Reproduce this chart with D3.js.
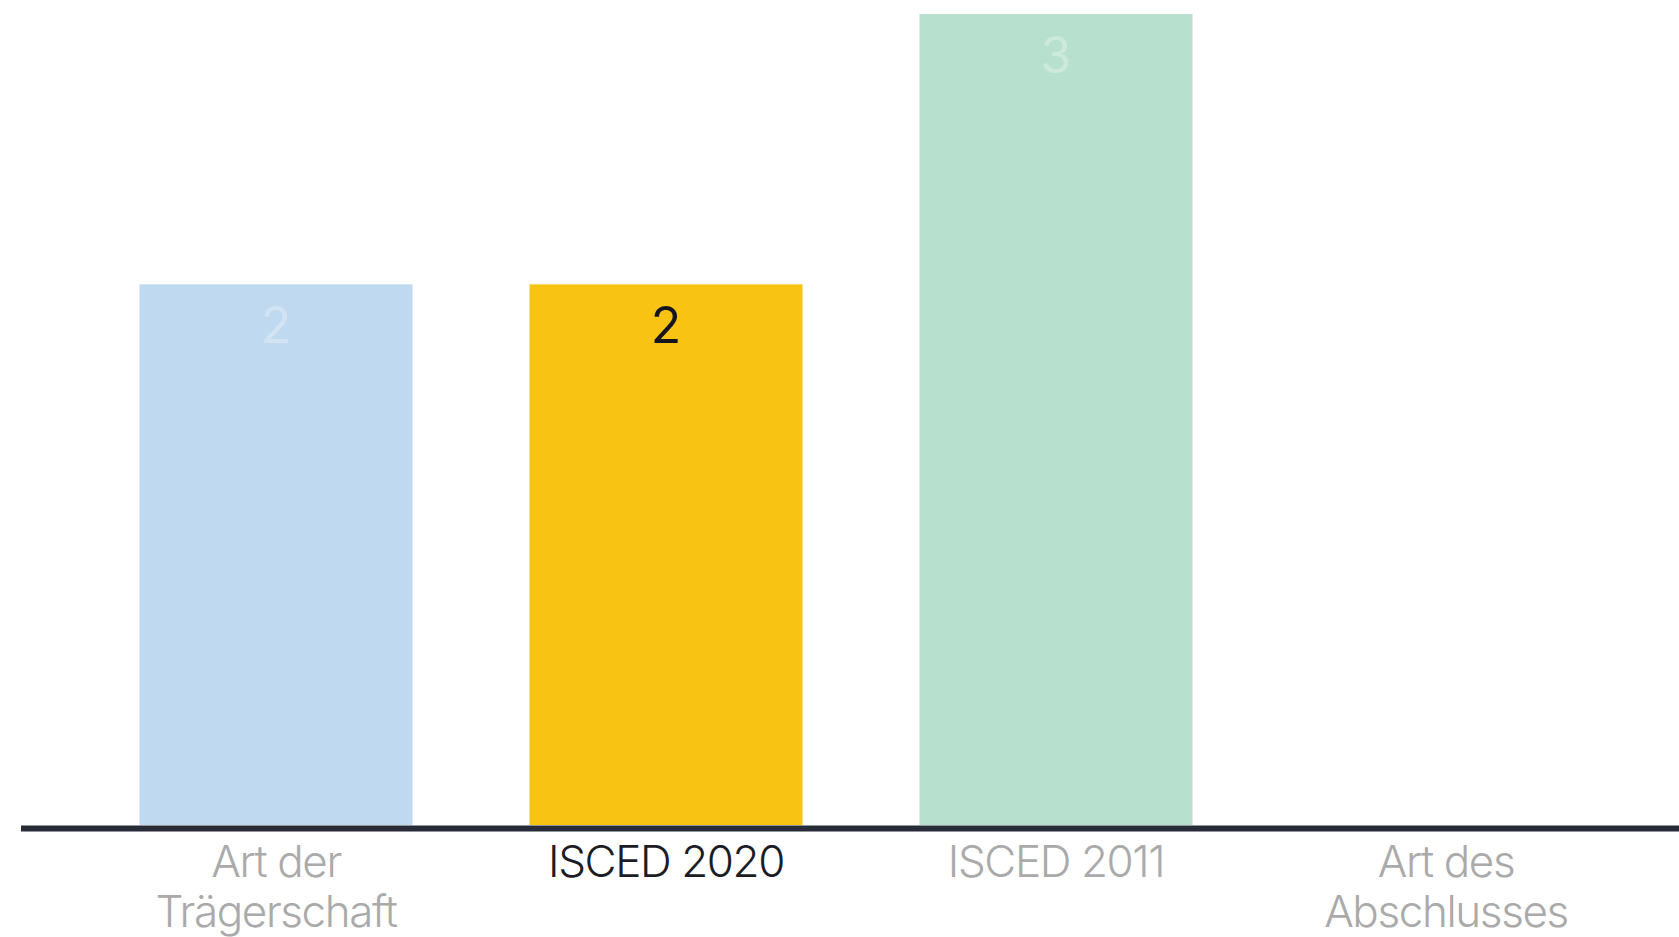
<!DOCTYPE html>
<html>
<head>
<meta charset="utf-8">
<script src="https://cdn.jsdelivr.net/npm/d3@7"></script>
<style>
  body { margin: 0; background: #fff; }
  svg { display: block; font-family: Inter, "Noto Sans", sans-serif; }
</style>
</head>
<body>
<div class="container"></div>
<script>
(function(){
  const categories = ['Art der|Trägerschaft', 'ISCED 2020', 'ISCED 2011', 'Art des|Abschlusses'];
  const values = [2, 2, 3, null];
  const barColors = ['#bfd9f0', '#f8c313', '#b8e0ce', 'none'];
  const active = 'ISCED 2020';

  const config = {w: 1679, h: 937, base: 825, top: 14};

  const svg = d3.select('.container').append('svg')
    .attr('width', config.w)
    .attr('height', config.h);

  const x = d3.scaleBand()
    .domain(categories)
    .range([81, 81 + 390 * 4])
    .paddingInner(0.3)
    .paddingOuter(0.15);

  const y = d3.scaleLinear()
    .domain([0, 3])
    .range([config.base, config.top]);

  const data = categories.map((c, i) => ({cat: c, value: values[i], color: barColors[i]}));

  svg.append('g')
    .selectAll('rect')
    .data(data.filter(d => d.value != null))
    .enter().append('rect')
      .attr('x', d => x(d.cat))
      .attr('width', x.bandwidth())
      .attr('y', d => y(d.value))
      .attr('height', d => y(0) - y(d.value))
      .attr('fill', d => d.color);

  svg.append('g')
    .selectAll('text')
    .data(data.filter(d => d.value != null))
    .enter().append('text')
      .attr('x', d => x(d.cat) + x.bandwidth() / 2)
      .attr('y', d => y(d.value) + 59)
      .attr('text-anchor', 'middle')
      .attr('font-size', 50)
      .attr('fill', d => d.cat === active ? '#15151f' : '#ffffff')
      .attr('fill-opacity', d => d.cat === active ? 1 : 0.3)
      .text(d => d.value);

  // baseline
  svg.append('line')
    .attr('x1', 21)
    .attr('x2', config.w)
    .attr('y1', config.base + 3.5)
    .attr('y2', config.base + 3.5)
    .attr('stroke', '#282b38')
    .attr('stroke-width', 6);

  const labels = svg.append('g')
    .selectAll('text')
    .data(categories)
    .enter().append('text')
      .attr('x', d => x(d) + x.bandwidth() / 2)
      .attr('y', 877)
      .attr('text-anchor', 'middle')
      .attr('font-size', 44)
      .attr('font-weight', 300)
      .attr('letter-spacing', -1.4)
      .attr('fill', d => d === active ? '#1c1c26' : '#aaaaaa');

  labels.selectAll('tspan')
    .data(d => d.split('|'))
    .enter().append('tspan')
      .attr('x', function(){ return d3.select(this.parentNode).attr('x'); })
      .attr('dy', (d, i) => i ? 50 : 0)
      .text(d => d);
})();
</script>
</body>
</html>
